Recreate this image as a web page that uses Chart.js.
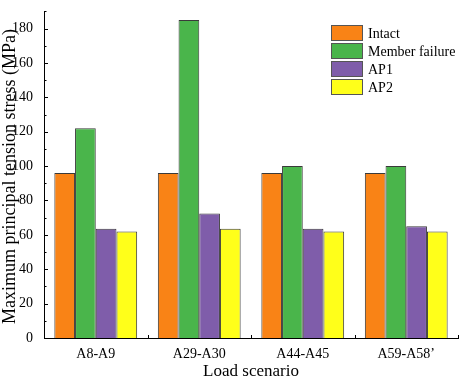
<!DOCTYPE html>
<html>
<head>
<meta charset="utf-8">
<script src="https://cdn.jsdelivr.net/npm/chart.js@4"></script>
<style>
html,body{margin:0;padding:0;background:#fff;}
#wrap{width:462px;height:379px;}
</style>
</head>
<body>
<div id="wrap"><canvas id="c" width="462" height="379"></canvas></div>
<script>
const categories = ["A8-A9", "A29-A30", "A44-A45", "A59-A58\u2019"];
const seriesNames = ["Intact", "Member failure", "AP1", "AP2"];
const intact = [96, 96, 96, 96];
const memberFailure = [122, 185, 100, 100];
const ap1 = [63.5, 72.5, 63.5, 65];
const ap2 = [62, 63.5, 62, 62];
const yTicks = [0, 20, 40, 60, 80, 100, 120, 140, 160, 180];
const colors = ["#F98316", "#4AB54B", "#7F5DAA", "#FFFF1A"];
const yTitle = "Maximum principal tension stress (MPa)";

const FONT = "'Liberation Serif', 'Times New Roman', serif";

const axisTicks = {
  id: 'axisTicks',
  afterDraw(chart) {
    const ctx = chart.ctx;
    const y = chart.scales.y;
    const ca = chart.chartArea;
    ctx.save();
    ctx.strokeStyle = '#000';
    ctx.lineWidth = 1;
    ctx.beginPath();
    for (let v = 0; v <= 190; v += 10) {
      const py = Math.round(y.getPixelForValue(v)) + 0.5;
      const len = (v % 20 === 0) ? 4 : 2.5;
      ctx.moveTo(ca.left, py);
      ctx.lineTo(ca.left + len, py);
    }
    const n = categories.length;
    const w = (ca.right - ca.left) / n;
    for (let i = 0; i <= n; i++) {
      const px = Math.round(ca.left + i * w) + 0.5;
      ctx.moveTo(px, ca.bottom);
      ctx.lineTo(px, ca.bottom - 3);
    }
    ctx.stroke();
    // y title
    ctx.save();
    ctx.translate(15, 176.5);
    ctx.rotate(-Math.PI / 2);
    ctx.font = "18px " + FONT;
    ctx.fillStyle = '#000';
    ctx.textAlign = 'center';
    ctx.textBaseline = 'alphabetic';
    ctx.fillText(yTitle, 0, 0);
    ctx.restore();
    // legend
    const bx = 331, by0 = 25, bw = 32, bh = 16, gap = 18;
    ctx.font = "14px " + FONT;
    ctx.textBaseline = 'middle';
    ctx.textAlign = 'left';
    chart.data.datasets.forEach((ds, i) => {
      const by = by0 + i * gap;
      ctx.fillStyle = ds.backgroundColor;
      ctx.fillRect(bx, by, bw, bh);
      ctx.strokeStyle = '#555';
      ctx.strokeRect(bx + 0.5, by + 0.5, bw - 1, bh - 1);
      ctx.fillStyle = '#000';
      ctx.fillText(ds.label, bx + 37, by + bh / 2 + 1);
    });
    ctx.restore();
  }
};

const dataSets = [intact, memberFailure, ap1, ap2].map((vals, i) => ({
  label: seriesNames[i],
  data: vals,
  backgroundColor: colors[i],
  borderColor: '#3a3a3a',
  borderWidth: 1,
  categoryPercentage: 0.8,
  barPercentage: 1.0
}));

new Chart(document.getElementById('c'), {
  type: 'bar',
  data: { labels: categories, datasets: dataSets },
  options: {
    responsive: false,
    animation: false,
    devicePixelRatio: 1,
    layout: { padding: { top: 3, right: 4, left: 0, bottom: 0 } },
    plugins: { legend: { display: false }, tooltip: { enabled: false } },
    scales: {
      x: {
        grid: { display: false },
        border: { display: true, color: '#000', width: 1 },
        ticks: { color: '#000', font: { family: FONT, size: 14 }, padding: 0, maxRotation: 0 },
        title: { display: true, text: 'Load scenario', color: '#000', font: { family: FONT, size: 17 }, padding: { top: 0, bottom: -3 } },
        afterFit(s) { s.height = 41; }
      },
      y: {
        min: 0, max: 190,
        grid: { display: false },
        border: { display: true, color: '#000', width: 1 },
        ticks: { color: '#000', font: { family: FONT, size: 14 }, padding: 3 },
        afterBuildTicks(s) { s.ticks = yTicks.map(v => ({ value: v })); },
        title: { display: false },
        afterFit(s) { s.width = 44; }
      }
    }
  },
  plugins: [axisTicks]
});
</script>
</body>
</html>
